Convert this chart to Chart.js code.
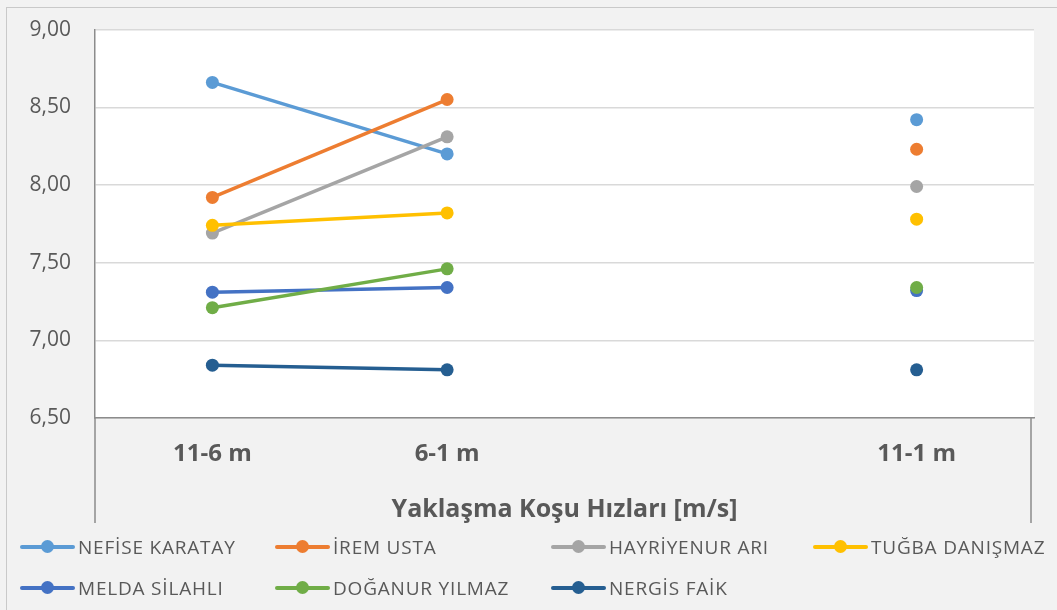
<!DOCTYPE html>
<html lang="tr">
<head>
<meta charset="UTF-8">
<title>Yaklaşma Koşu Hızları</title>
<script src="https://cdn.jsdelivr.net/npm/chart.js"></script>
<style>
  body { margin: 0; background: #f2f2f2; font-family: "Open Sans", sans-serif; overflow: hidden; }
  .frame { position: absolute; left: 6px; top: 7px; width: 1100px; height: 700px; border: 1px solid #c9c9c9; }
  .chart-box { position: absolute; left: 0; top: -7px; width: 1057px; height: 537px; }
  .legend { position: absolute; left: 20px; top: 526px; display: grid; grid-template-columns: 255px 276px 262px 240px; }
  .item { display: flex; align-items: center; height: 41px; font-size: 19px; letter-spacing: 0.8px; color: #595959; white-space: nowrap; }
  .swatch { position: relative; width: 55px; height: 4px; margin-right: 3px; border-radius: 2px; }
  .swatch i { position: absolute; left: 21px; top: -4.5px; width: 13px; height: 13px; border-radius: 50%; background: inherit; }
</style>
</head>
<body>
<div class="frame"></div>
<div class="chart-box"><canvas id="chart"></canvas></div>
<div class="legend" id="legend"></div>

<script>
// categories (third slot is an empty category, as in the original)
const categories = ['11-6 m', '6-1 m', '', '11-1 m'];

const names = ['NEFİSE KARATAY', 'İREM USTA', 'HAYRİYENUR ARI', 'TUĞBA DANIŞMAZ',
               'MELDA SİLAHLI', 'DOĞANUR YILMAZ', 'NERGİS FAİK'];
const colors = ['#5b9bd5', '#ed7d31', '#a5a5a5', '#ffc000', '#4472c4', '#70ad47', '#255e91'];

// values [11-6 m, 6-1 m, (empty), 11-1 m]
const nefise     = [8.66, 8.20, null, 8.42];
const irem       = [7.92, 8.55, null, 8.23];
const hayriyenur = [7.69, 8.31, null, 7.99];
const tugba      = [7.74, 7.82, null, 7.78];
const melda      = [7.31, 7.34, null, 7.32];
const doganur    = [7.21, 7.46, null, 7.34];
const nergis     = [6.84, 6.81, null, 6.81];
const series = [nefise, irem, hayriyenur, tugba, melda, doganur, nergis];

const yTicks = { min: 6.5, max: 9, step: 0.5 };

const textColor = '#595959';
const fontFamily = '"Open Sans", sans-serif';

// white plot area + boxed x-axis zone
const frame = {
    id: 'frame',
    beforeDraw(chart) {
        const { ctx, chartArea: a } = chart;
        ctx.save();
        ctx.fillStyle = '#ffffff';
        ctx.fillRect(a.left, a.top, a.right - a.left, a.bottom - a.top);
        ctx.restore();
    },
    afterDraw(chart) {
        const { ctx, chartArea: a } = chart;
        ctx.save();
        ctx.strokeStyle = '#8c8c8c';
        ctx.lineWidth = 1.5;
        ctx.beginPath();
        ctx.moveTo(a.left, a.bottom);
        ctx.lineTo(a.left, a.bottom + 105);
        ctx.moveTo(a.right - 3, a.bottom);
        ctx.lineTo(a.right - 3, a.bottom + 105);
        ctx.stroke();
        ctx.restore();
    }
};

new Chart(document.getElementById('chart'), {
    type: 'line',
    data: {
        labels: categories,
        datasets: series.map((d, i) => ({
            label: names[i],
            data: d,
            borderColor: colors[i],
            backgroundColor: colors[i],
            pointBackgroundColor: colors[i],
            pointBorderWidth: 0,
            pointRadius: 6.5,
            borderWidth: 3.5,
            spanGaps: false,
            order: series.length - i
        }))
    },
    options: {
        responsive: true,
        maintainAspectRatio: false,
        animation: false,
        layout: { padding: { top: 18, right: 23, left: 0, bottom: 0 } },
        plugins: { legend: { display: false }, tooltip: { enabled: false } },
        scales: {
            x: {
                offset: true,
                afterFit: s => { s.height = 112; },
                grid: { display: false, drawTicks: false },
                border: { display: true, color: '#8c8c8c', width: 1.5 },
                ticks: { color: textColor, padding: 22, font: { family: fontFamily, size: 24, weight: 'bold' } },
                title: {
                    display: true,
                    text: 'Yaklaşma Koşu Hızları [m/s]',
                    color: textColor,
                    font: { family: fontFamily, size: 25, weight: 'bold' },
                    padding: { top: 0, bottom: 5 }
                }
            },
            y: {
                min: yTicks.min,
                max: yTicks.max,
                afterFit: s => { s.width = 95; },
                grid: { color: '#d9d9d9', lineWidth: 1.5, drawTicks: false },
                border: { display: true, color: '#8c8c8c', width: 1.5 },
                ticks: {
                    stepSize: yTicks.step,
                    color: textColor,
                    padding: 24,
                    font: { family: fontFamily, size: 21 },
                    callback: v => v.toFixed(2).replace('.', ',')
                }
            }
        }
    },
    plugins: [frame]
});

// legend laid out as a 4-column grid, like the original
const legend = document.getElementById('legend');
names.forEach((n, i) => {
    const item = document.createElement('div');
    item.className = 'item';
    item.innerHTML = `<span class="swatch" style="background:${colors[i]}"><i></i></span>${n}`;
    legend.appendChild(item);
});
</script>
</body>
</html>
